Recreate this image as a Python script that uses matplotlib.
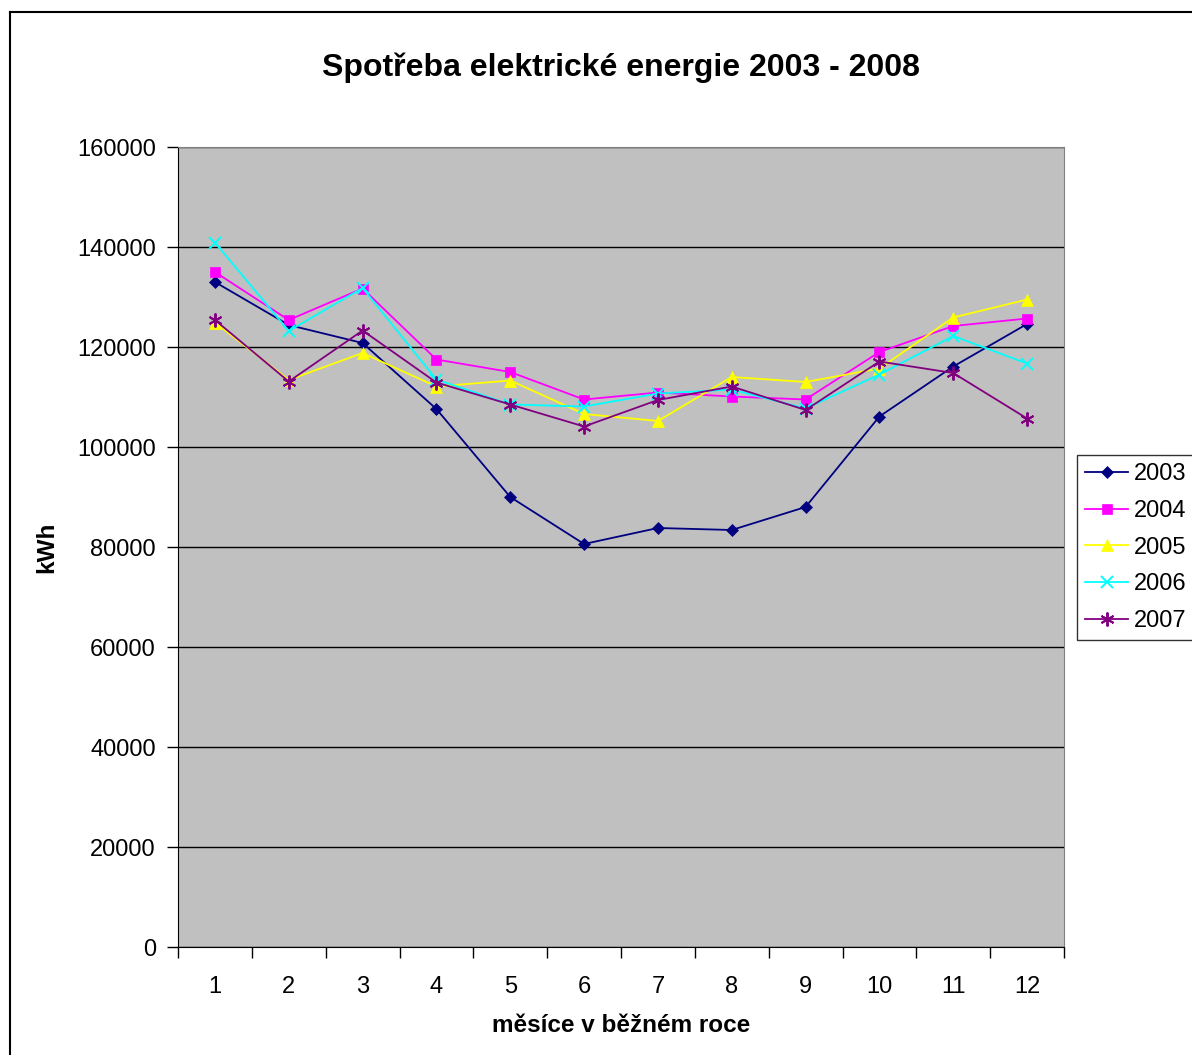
import matplotlib
matplotlib.use("Agg")
import matplotlib.pyplot as plt
from matplotlib.lines import Line2D
import numpy as np

plt.rcParams['font.family'] = ['Liberation Sans', 'DejaVu Sans']

months = list(range(1, 13))
years = ['2003', '2004', '2005', '2006', '2007']

y2003 = [133000, 124400, 120800, 107600, 90000, 80600, 83800, 83400, 88000, 106100, 116100, 124600]
y2004 = [135000, 125400, 131700, 117500, 115000, 109500, 110900, 110100, 109500, 119000, 124200, 125700]
y2005 = [124900, 113400, 118800, 112100, 113300, 106600, 105200, 114000, 113000, 115700, 125900, 129500]
y2006 = [140900, 123200, 131800, 113500, 108500, 108100, 110700, 111500, 107700, 114500, 122200, 116700]
y2007 = [125400, 113100, 123300, 112900, 108500, 104100, 109400, 112100, 107400, 117100, 114800, 105700]

series = [y2003, y2004, y2005, y2006, y2007]
colors = ['#000080', '#FF00FF', '#FFFF00', '#00FFFF', '#800080']
markers = ['D', 's', '^', 'x', (6, 2, 0)]
msizes = [6.5, 7, 8, 8, 10]


def main():
    fig = plt.figure(figsize=(11.92, 10.55), dpi=100)
    ax = fig.add_axes([178 / 1192, 108 / 1055, 886 / 1192, 800 / 1055])
    ax.set_facecolor('#C0C0C0')

    for vals, lab, c, m, ms in zip(series, years, colors, markers, msizes):
        ax.plot(months, vals, color=c, marker=m, markersize=ms, linewidth=1.3,
                markeredgewidth=1.4 if m in ('x', (6, 2, 0)) else 0.5,
                markeredgecolor=c, label=lab, clip_on=False, zorder=3)

    ax.set_xlim(0.5, 12.5)
    ax.set_ylim(0, 160000)
    ax.set_yticks(np.arange(0, 160001, 20000))
    ax.yaxis.grid(True, color='black', linewidth=1.0)
    ax.set_axisbelow(True)

    ax.set_xticks(months)
    ax.set_xticklabels([str(m) for m in months])
    ax.set_xticks(np.arange(0.5, 13, 1), minor=True)
    ax.tick_params(axis='x', which='major', length=0, pad=21, labelsize=17)
    ax.tick_params(axis='x', which='minor', length=8, width=1, direction='out')
    ax.tick_params(axis='y', length=8, width=1, direction='out', pad=8, labelsize=17)

    ax.spines['left'].set_color('black')
    ax.spines['bottom'].set_color('black')
    ax.spines['top'].set_color('#808080')
    ax.spines['right'].set_color('#808080')

    fig.text(621 / 1192, 1 - 68 / 1055, 'Spotřeba elektrické energie 2003 - 2008',
             ha='center', va='center', fontsize=23, fontweight='bold')
    fig.text(621 / 1192, 1 - 1025 / 1055, 'měsíce v běžném roce',
             ha='center', va='center', fontsize=17.5, fontweight='bold')
    fig.text(47 / 1192, 1 - 547 / 1055, 'kWh', rotation=90,
             ha='center', va='center', fontsize=17.5, fontweight='bold')

    leg = fig.legend(loc='upper left', bbox_to_anchor=(1077 / 1192, 1 - 455 / 1055),
                     fontsize=17, frameon=True, fancybox=False, edgecolor='black',
                     handlelength=1.8, handletextpad=0.25, labelspacing=0.62,
                     borderpad=0.35, borderaxespad=0)
    leg.get_frame().set_linewidth(1.0)

    # outer chart border (right and bottom fall outside the picture)
    fig.add_artist(Line2D([10 / 1192, 10 / 1192], [0, 1 - 12 / 1055],
                          color='black', linewidth=1.5))
    fig.add_artist(Line2D([10 / 1192, 1], [1 - 12 / 1055, 1 - 12 / 1055],
                          color='black', linewidth=1.5))

    fig.savefig('out.png', dpi=100)


if __name__ == "__main__":
    main()
